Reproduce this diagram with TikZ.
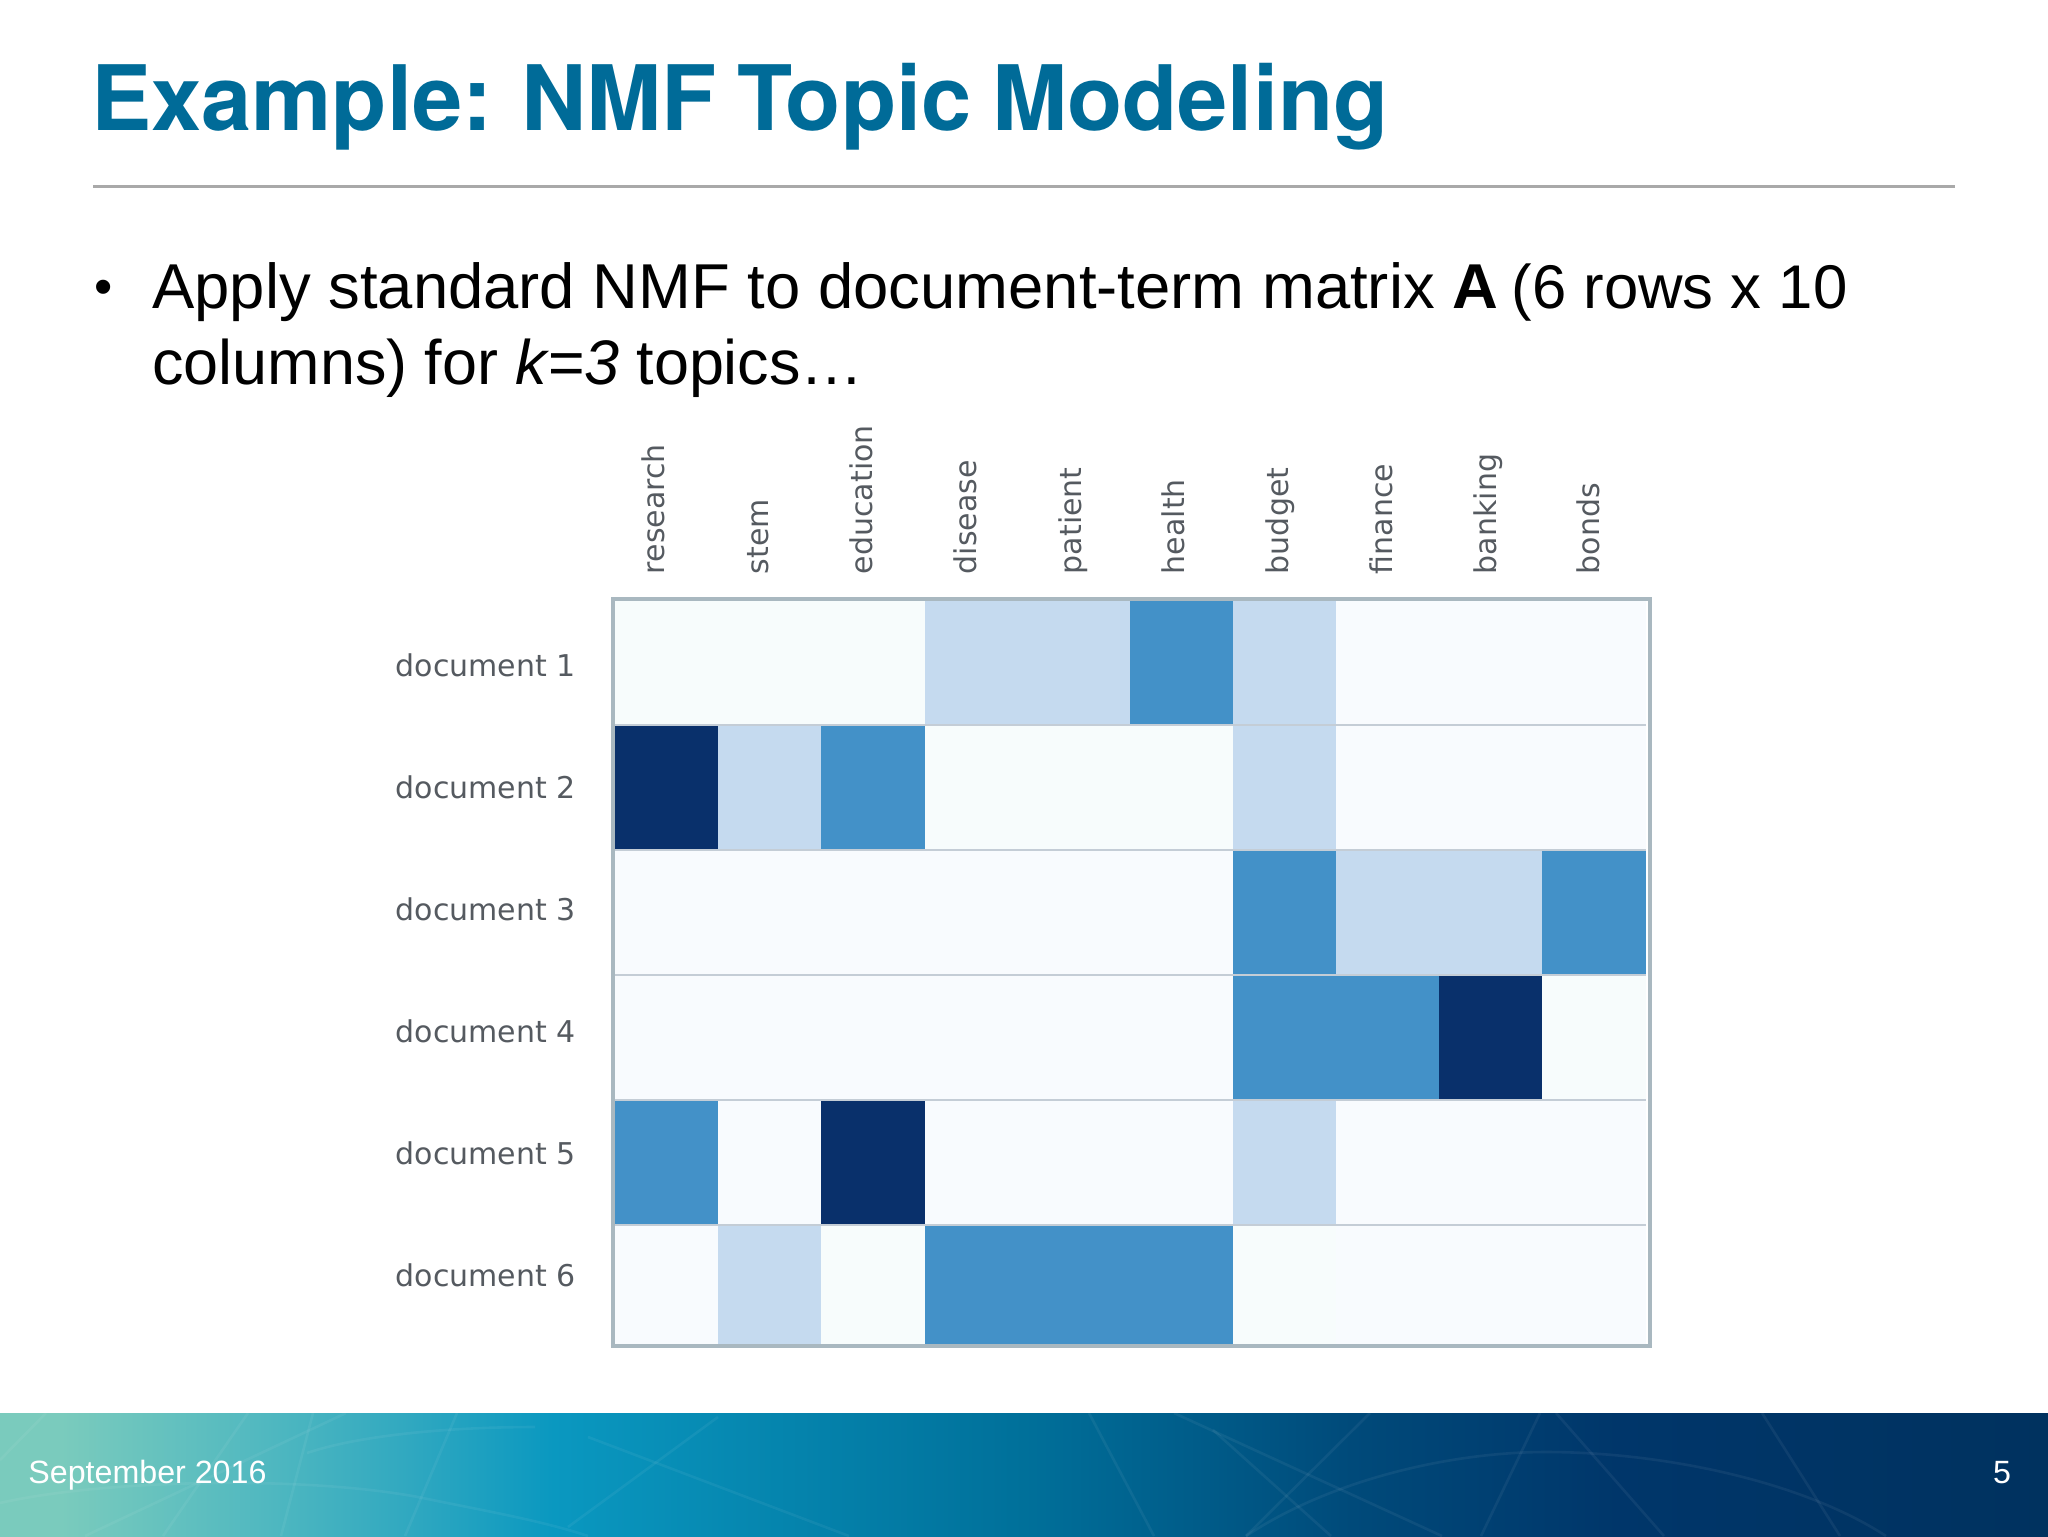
\documentclass[tikz,border=0pt]{standalone}
\usepackage{fontspec}
\setmainfont{Liberation Sans}
\newfontfamily\labelfont{DejaVu Sans}
\newfontfamily\titlefont[WordSpace=0.82]{TeX Gyre Heros}
\definecolor{titleblue}{HTML}{006B98}
\definecolor{ruleg}{HTML}{A9A9A9}
\definecolor{labg}{HTML}{555A60}
\definecolor{frameg}{HTML}{A9B8C0}
\definecolor{gridg}{HTML}{C4CDD6}
\definecolor{cZ}{HTML}{F8FBFE}
\definecolor{cY}{HTML}{F7FCFC}
\definecolor{cL}{HTML}{C5DAEF}
\definecolor{cM}{HTML}{4391C8}
\definecolor{cD}{HTML}{09306B}
\definecolor{cA}{HTML}{7ACBBD}
\definecolor{cB}{HTML}{50B8C0}
\definecolor{cC}{HTML}{30A8C0}
\definecolor{cE}{HTML}{0A98C0}
\definecolor{cF}{HTML}{00709A}
\definecolor{cG}{HTML}{004A7A}
\definecolor{cH}{HTML}{00366A}
\definecolor{cI}{HTML}{00325F}
\pgfdeclarehorizontalshading{bandshade}{100bp}{
 color(0bp)=(cA);color(26.5bp)=(cA);color(31.5bp)=(cB);color(35bp)=(cC);color(38.5bp)=(cE);color(50bp)=(cF);color(58bp)=(cG);color(64.5bp)=(cH);color(75bp)=(cI);color(100bp)=(cI)}
\tikzset{
 px/.style={x=0.5pt,y=-0.5pt},
 title/.style={anchor=base west,inner sep=0pt,font=\titlefont\fontsize{45.15}{45}\selectfont\bfseries,text=titleblue},
 body/.style={anchor=base west,inner sep=0pt,font=\fontsize{31.45}{31}\selectfont,text=black},
 bulletmark/.style={anchor=base west,inner sep=0pt,font=\fontsize{26}{26}\selectfont,text=black},
 doclabel/.style={anchor=base east,inner sep=0pt,font=\labelfont\fontsize{15}{15}\selectfont,text=labg},
 termlabel/.style={anchor=base west,rotate=90,inner sep=0pt,font=\labelfont\fontsize{15}{15}\selectfont,text=labg},
 foot/.style={inner sep=0pt,font=\fontsize{16.1}{16}\selectfont,text=white},
 streak/.style={draw=white,draw opacity=0.055,line width=1.3pt},
}
\begin{document}
\begin{tikzpicture}[px]
\useasboundingbox (0,0) rectangle (2048,1536);
% footer band
\shade[shading=bandshade] (0,1413) rectangle (2048,1536);
\begin{scope}
\clip (0,1413) rectangle (2048,1536);
\draw[streak] (1174,1413)--(1442,1536);
\draw[streak] (1213,1430)--(1331,1536);
\draw[streak] (1556,1413)--(1664,1536);
\draw[streak] (1370,1413)--(1246,1536);
\draw[streak] (1540,1413)--(1481,1536);
\draw[streak] (1089,1413)--(1154,1536);
\draw[streak] (1762,1413)--(1840,1536);
\draw[streak] (1246,1536) .. controls (1330,1480) and (1450,1452) .. (1546,1452) .. controls (1660,1452) and (1800,1480) .. (1886,1536);
\draw[streak] (0,1503) .. controls (100,1480) and (300,1475) .. (418,1497) .. controls (480,1510) and (540,1520) .. (588,1536);
\draw[streak] (46,1413)--(0,1460);
\draw[streak] (248,1413)--(163,1536);
\draw[streak] (313,1413)--(281,1536);
\draw[streak] (346,1413)--(85,1536);
\draw[streak] (718,1417)--(568,1527);
\draw[streak] (457,1413)--(405,1536);
\draw[streak] (307,1453) .. controls (360,1435) and (450,1427) .. (535,1427);
\draw[streak] (588,1437)--(849,1536);
\end{scope}
\node[foot,anchor=base west] (date) at (28,1483) {September 2016};
\node[foot,anchor=base] (page) at (2002,1483) {5};
% title
\node[title] (ttl) at (91,130) {Example: NMF Topic Modeling};
\coordinate (ruleL) at (93,186);
\coordinate (ruleR) at (1955,186);
\draw[ruleg,line width=1.5pt] (ruleL)--(ruleR);
% body
\node[bulletmark] (bul) at (94,304) {•};
\node[body] (l1) at (152,308) {\fontsize{31.7}{31}\selectfont Apply standard NMF to document-term matrix \textbf{A}\hspace{6.6pt}\fontsize{30.85}{31}\selectfont (6 rows x 10};
\node[body] (l2) at (152,384) {columns) for \textit{k=3} topics…};
% heat map
\def\colx{{614,718,821,925,1027,1130,1233,1336,1439,1542,1646}}
\def\rowy{{600,725,850,975,1100,1225,1346}}
\foreach \r/\rowcells in {0/{cY,cY,cY,cL,cL,cM,cL,cZ,cZ,cZ},
 1/{cD,cL,cM,cY,cY,cY,cL,cZ,cZ,cZ},
 2/{cZ,cZ,cZ,cZ,cZ,cZ,cM,cL,cL,cM},
 3/{cZ,cZ,cZ,cZ,cZ,cZ,cM,cM,cD,cY},
 4/{cM,cZ,cD,cZ,cZ,cZ,cL,cZ,cZ,cZ},
 5/{cZ,cL,cY,cM,cM,cM,cY,cZ,cZ,cZ}}{
  \foreach \cc [count=\c from 0] in \rowcells {
    \pgfmathsetmacro{\xa}{\colx[\c]}
    \pgfmathsetmacro{\xb}{\colx[\c+1]}
    \pgfmathsetmacro{\ya}{\rowy[\r]}
    \pgfmathsetmacro{\yb}{\rowy[\r+1]}
    \fill[\cc] (\xa,\ya) rectangle (\xb,\yb);
  }
}
\foreach \y in {725,850,975,1100,1225}{\draw[gridg,line width=1pt] (614,\y)--(1646,\y);}
\draw[frameg,line width=2pt] (612.5,598.5) rectangle (1650,1345.5);
% labels
\foreach \n/\y in {1/676,2/798,3/920,4/1042,5/1164,6/1286}{
  \node[doclabel] (doc\n) at (576,\y) {document \n};
}
\foreach \t/\x [count=\i] in {research/664,stem/768,education/872,disease/976,patient/1081,health/1184,budget/1288,finance/1392,banking/1496,bonds/1599}{
  \node[termlabel] (term\i) at (\x,574.5) {\t};
}
\end{tikzpicture}
\end{document}
